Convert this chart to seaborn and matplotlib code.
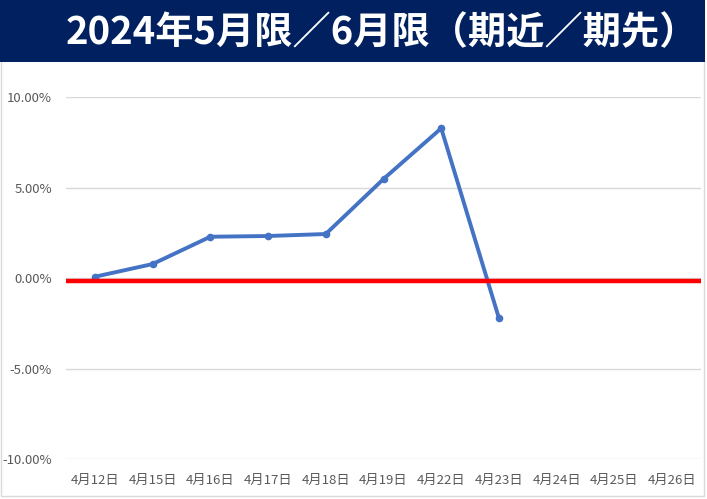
import matplotlib
matplotlib.use("Agg")
import matplotlib.pyplot as plt
from matplotlib.patches import Rectangle
from matplotlib.ticker import PercentFormatter
import seaborn as sns
import pandas as pd

# Data
title = "2024年5月限／6月限（期近／期先）"
dates = ["4月12日", "4月15日", "4月16日", "4月17日", "4月18日", "4月19日",
         "4月22日", "4月23日", "4月24日", "4月25日", "4月26日"]
spread = [0.0007, 0.0077, 0.0228, 0.0232, 0.0243, 0.0547, 0.0827, -0.0222]
baseline = -0.0015
y_ticks = [-0.10, -0.05, 0.0, 0.05, 0.10]

sns.set_theme(style="white")
plt.rcParams["font.family"] = ["Noto Sans CJK JP", "DejaVu Sans"]
plt.rcParams["axes.unicode_minus"] = False

W, H = 707, 499
fig = plt.figure(figsize=(W / 100, H / 100), dpi=100, facecolor="white")

# chart frame and title banner
fig.patches.append(Rectangle((1 / W, 1 - 496 / H), 703 / W, 495 / H, transform=fig.transFigure,
                             facecolor="none", edgecolor="#d9d9d9", lw=1.0, zorder=0))
fig.patches.append(Rectangle((0, 1 - 62 / H), 705 / W, 62 / H, transform=fig.transFigure,
                             facecolor="#002060", edgecolor="none", zorder=1))
fig.text(382 / W, 1 - 33 / H, title, color="white", fontsize=27.5, fontweight="bold",
         ha="center", va="center")

ax = fig.add_axes([66 / W, 1 - 459 / H, 635 / W, 362 / H])

df = pd.DataFrame({"pos": range(len(spread)), "value": spread})
sns.lineplot(data=df, x="pos", y="value", ax=ax, color="#4472c4", lw=2.8,
             marker="o", markersize=5.5, markeredgewidth=0, zorder=3)
ax.axhline(baseline, color="#ff0000", lw=3.2, zorder=4)

ax.set_xlim(-0.5, len(dates) - 0.5)
ax.set_ylim(-0.10, 0.10)
ax.set_xticks(range(len(dates)))
ax.set_xticklabels(dates)
ax.set_yticks(y_ticks)
ax.yaxis.set_major_formatter(PercentFormatter(1.0, decimals=2))
ax.grid(axis="y", color="#d9d9d9", lw=1.0)
ax.set_axisbelow(True)
for s in ax.spines.values():
    s.set_visible(False)
ax.set_xlabel("")
ax.set_ylabel("")
ax.tick_params(axis="x", length=0, pad=11, labelsize=9.5, labelcolor="#595959")
ax.tick_params(axis="y", length=0, pad=10, labelsize=9.5, labelcolor="#595959")
ax.patch.set_alpha(0)

fig.savefig("out.png", dpi=100)
